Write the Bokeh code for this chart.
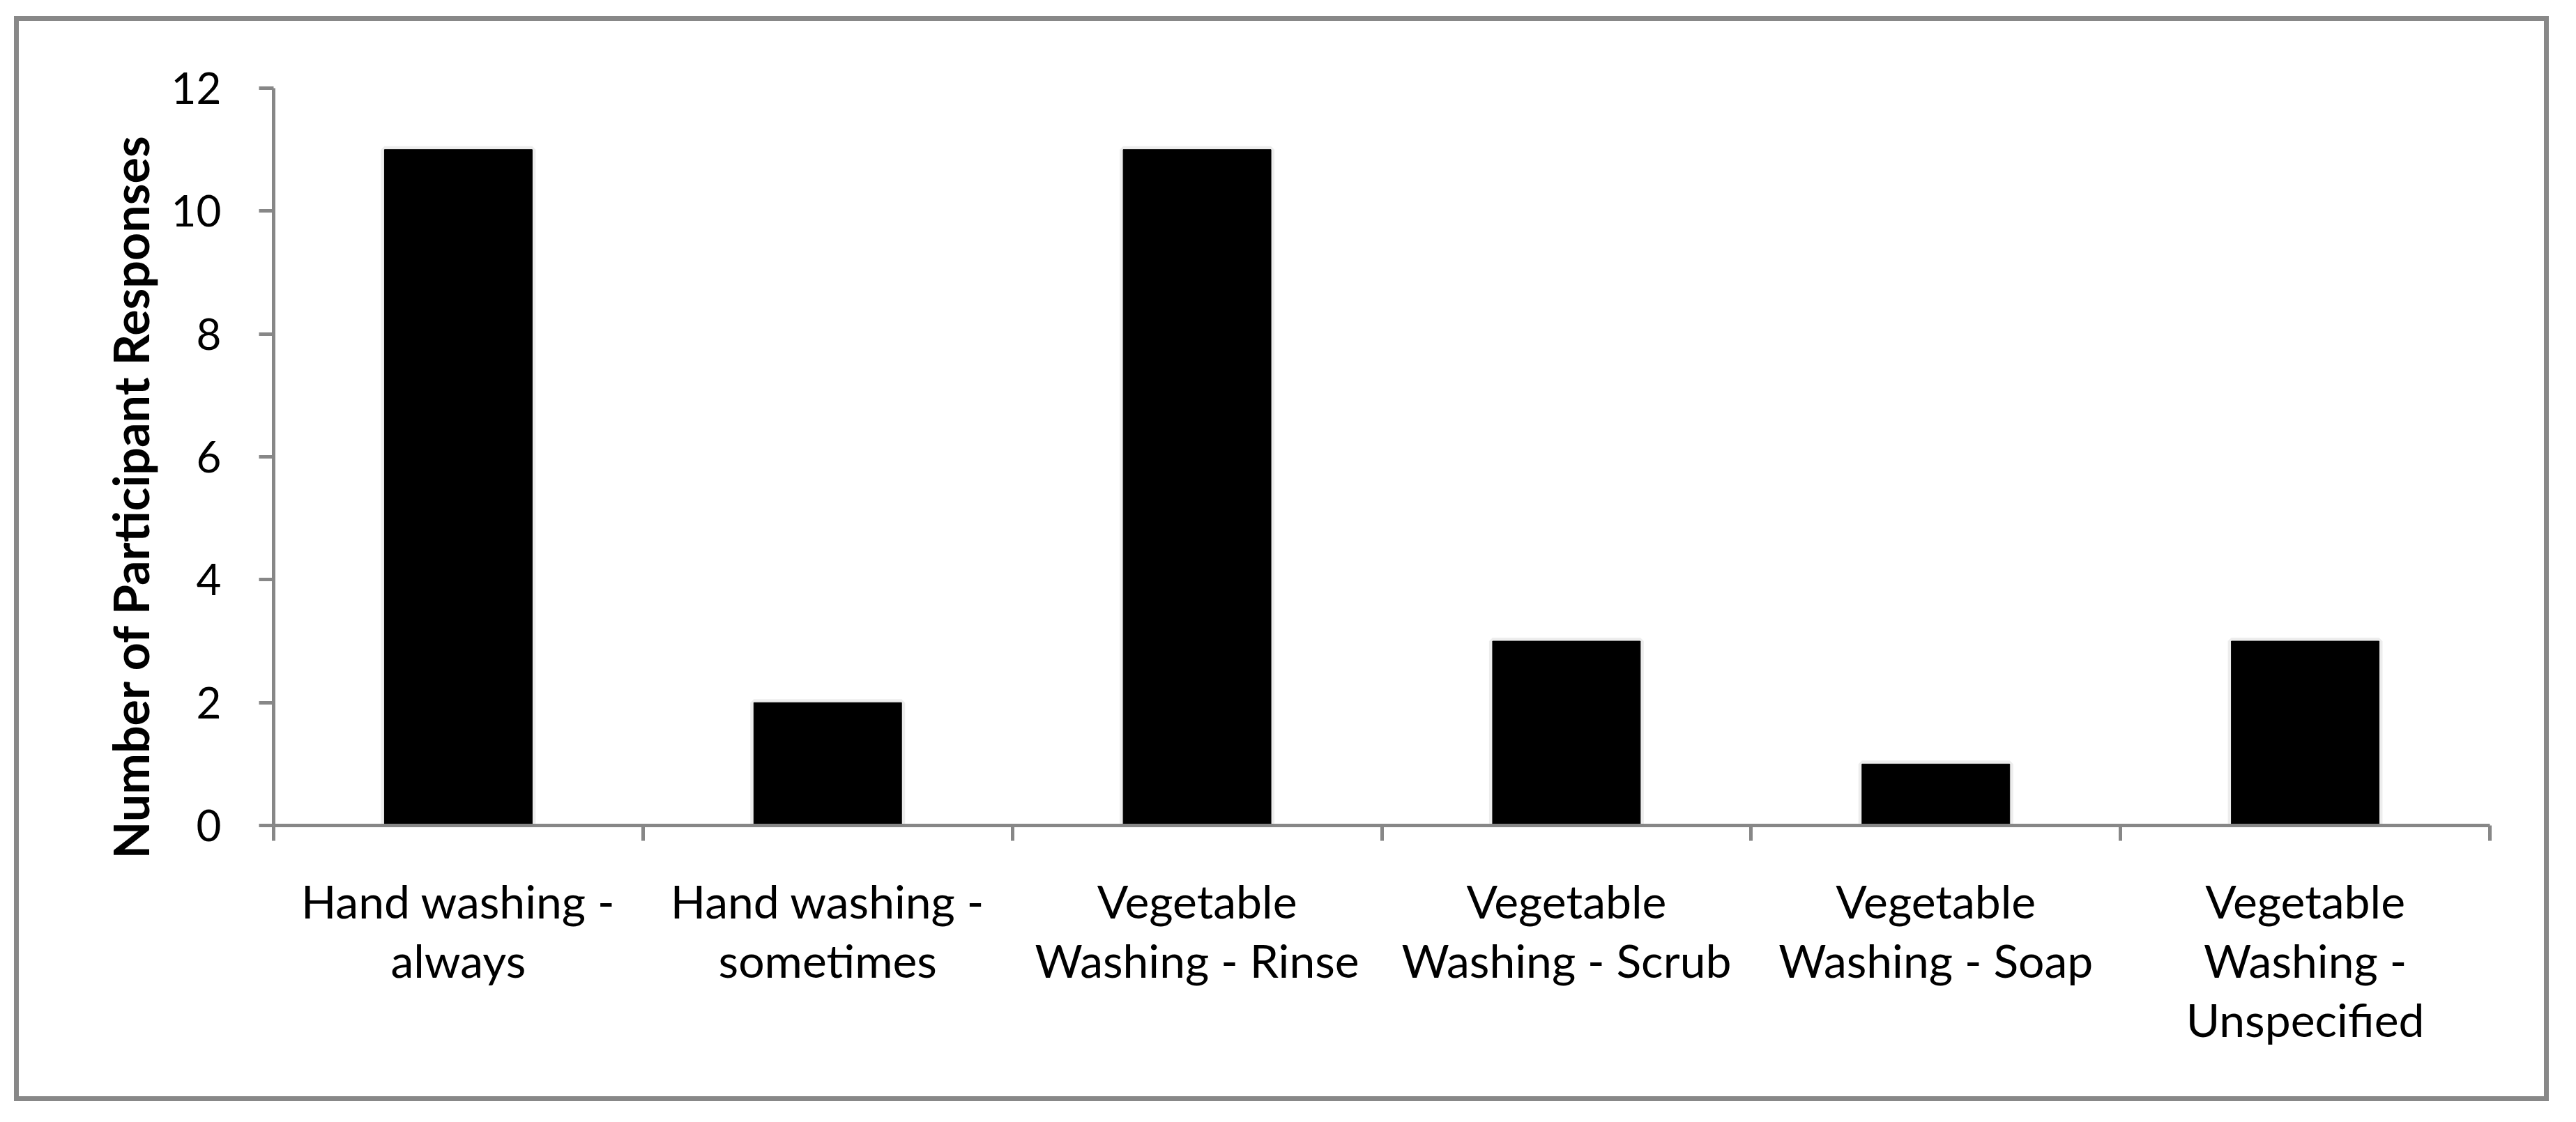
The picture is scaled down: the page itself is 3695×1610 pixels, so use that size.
from bokeh.plotting import figure
from bokeh.models import (Range1d, LinearAxis, FixedTicker, Title)
from bokeh.embed import file_html
from bokeh.resources import INLINE

# ---- data ----
categories = [
    "Hand washing -\nalways",
    "Hand washing -\nsometimes",
    "Vegetable\nWashing - Rinse",
    "Vegetable\nWashing - Scrub",
    "Vegetable\nWashing - Soap",
    "Vegetable\nWashing -\nUnspecified",
]
responses = [11, 2, 11, 3, 1, 3]
y_ticks = [0, 2, 4, 6, 8, 10, 12]
y_title = "Number of Participant  Responses"

# category slots on a numeric axis: slot i spans [i, i+1]
n = len(categories)
centers = [i + 0.5 for i in range(n)]
bounds = list(range(n + 1))

# ---- styling ----
W, H = 3622, 1543
BORDER = 7
FONT = "Lato"
AXIS_GRAY = "#878787"

p = figure(
    width=W, height=H,
    x_range=Range1d(0, n),
    y_range=Range1d(0, 12),
    output_backend="svg", toolbar_location=None,
    x_axis_location=None,
    min_border_left=365, min_border_right=92,
    min_border_top=96, min_border_bottom=389 + 2 * BORDER,
)
p.styles = {"margin-left": "20px", "margin-top": "23px",
            "border": f"{BORDER}px solid #888888", "box-sizing": "content-box"}
p.outline_line_color = None
p.grid.grid_line_color = None
p.background_fill_color = "white"
p.border_fill_color = "white"

# soft halo like the original bar shadow
p.vbar(x=centers, top=responses, width=0.4, fill_color="#d8d8d8",
       line_color="#d8d8d8", line_width=10, line_alpha=0.45, fill_alpha=0.45)
p.vbar(x=centers, top=responses, width=0.4, fill_color="black", line_color="black")

# y axis
ya = p.yaxis[0]
ya.ticker = FixedTicker(ticks=y_ticks)
ya.axis_line_color = AXIS_GRAY
ya.axis_line_width = 5
ya.major_tick_line_color = AXIS_GRAY
ya.major_tick_line_width = 5
ya.major_tick_out = 21
ya.major_tick_in = 0
ya.minor_tick_line_color = None
ya.major_label_text_font = FONT
ya.major_label_text_font_size = "62px"
ya.major_label_text_color = "black"
ya.major_label_standoff = 54

# y-axis title, placed as a side title (starting a bit below the axis origin)
p.add_layout(Title(text=y_title, align="left", offset=-48, standoff=28,
                   text_font=FONT, text_font_style="bold", text_font_size="70px",
                   text_color="black"), "left")

# boundary tick axis (ticks between categories)
bx = LinearAxis(ticker=FixedTicker(ticks=bounds))
bx.axis_line_color = AXIS_GRAY
bx.axis_line_width = 5
bx.major_tick_line_color = AXIS_GRAY
bx.major_tick_line_width = 5
bx.major_tick_out = 22
bx.major_tick_in = 0
bx.minor_tick_line_color = None
bx.major_label_text_font_size = "1px"
bx.major_label_text_color = None
bx.major_label_standoff = 0
p.add_layout(bx, "below")

# category label axis (labels at slot centers)
cx = LinearAxis(ticker=FixedTicker(ticks=centers),
                major_label_overrides={c: lab for c, lab in zip(centers, categories)})
cx.axis_line_color = None
cx.major_tick_line_color = None
cx.major_tick_out = 0
cx.major_tick_in = 0
cx.minor_tick_line_color = None
cx.major_label_text_font = FONT
cx.major_label_text_font_size = "66px"
cx.major_label_text_line_height = 1.08
cx.major_label_text_color = "black"
cx.major_label_standoff = 46
p.add_layout(cx, "below")

open("out.html", "w").write(file_html(p, INLINE))
